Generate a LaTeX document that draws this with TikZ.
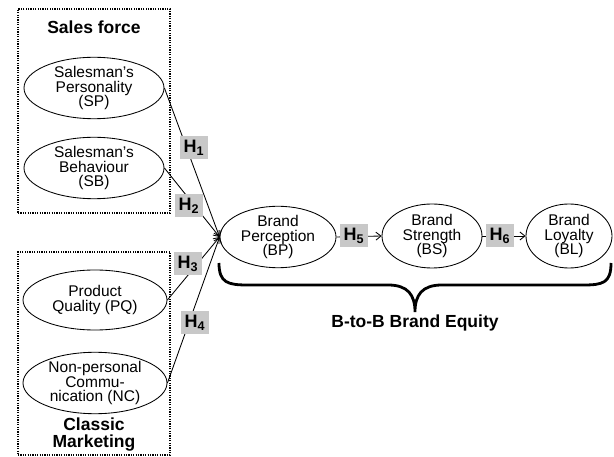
\documentclass[tikz,border=0pt]{standalone}
\usepackage{fontspec}
\setmainfont{Liberation Sans}
\usetikzlibrary{positioning,shapes.geometric,arrows.meta}
\definecolor{hgray}{RGB}{200,200,200}

\begin{document}
\begin{tikzpicture}[x=1pt,y=-1pt]
\tikzstyle{construct}=[ellipse,draw,line width=.3mm,inner sep=0pt,align=center,font=\fontsize{15.5}{14.5}\selectfont]
\tikzstyle{hyp}=[fill=hgray,minimum width=28pt,minimum height=23pt,inner sep=0pt,font=\fontsize{18}{18}\selectfont\bfseries]
\tikzstyle{groupbox}=[draw,dash pattern=on 1.2pt off 1.2pt,line width=.4mm,inner sep=0pt]
\tikzstyle{grouptitle}=[align=center,font=\fontsize{17.5}{17}\selectfont\bfseries]
\tikzstyle{conn}=[-{Straight Barb[length=5pt,width=8pt]},line width=.3mm]
    \useasboundingbox (0,0) rectangle (614,457);
    % groups
    \node[groupbox,minimum width=152pt,minimum height=204pt] (sf) at (94,111) {};
    \node[groupbox,minimum width=152pt,minimum height=203pt] (cm) at (94,353.5) {};
    \node[grouptitle] (sftitle) at (94,27) {Sales force};
    \node[grouptitle] (cmtitle) at (94,435) {Classic\\Marketing};
    % constructs
    \node[construct,minimum width=140pt,minimum height=50pt] (sp) at (94,88) {Salesman's\\Personality\\(SP)};
    \node[construct,minimum width=140pt,minimum height=54pt] (sb) at (94,168) {Salesman's\\Behaviour\\(SB)};
    \node[construct,minimum width=144pt,minimum height=60pt] (pq) at (95,300) {Product\\Quality (PQ)};
    \node[construct,minimum width=144pt,minimum height=60pt] (nc) at (95,383) {Non-personal\\Commu-\\nication (NC)};
    \node[construct,minimum width=116pt,minimum height=54pt] (bp) at (278,237) {Brand\\Perception\\(BP)};
    \node[construct,minimum width=100pt,minimum height=64pt] (bs) at (432,236) {Brand\\Strength\\(BS)};
    \node[construct,minimum width=86pt,minimum height=64pt] (bl) at (569,236) {Brand\\Loyalty\\(BL)};
    % paths
    \draw[conn] (sp.east) to (bp.west);
    \draw[conn] (sb.east) to (bp.west);
    \draw[conn] (pq.east) to (bp.west);
    \draw[conn] (nc.east) to (bp.west);
    \draw[conn] (bp.east) to (bs.west);
    \draw[conn] (bs.east) to (bl.west);
    % hypotheses
    \node[hyp] (h1) at (194,148) {H\textsubscript{1}};
    \node[hyp] (h2) at (189,206) {H\textsubscript{2}};
    \node[hyp] (h3) at (188,264) {H\textsubscript{3}};
    \node[hyp] (h4) at (195,323) {H\textsubscript{4}};
    \node[hyp] (h5) at (354,236) {H\textsubscript{5}};
    \node[hyp] (h6) at (500,236) {H\textsubscript{6}};
    % brace
    \draw[line width=2.8pt] (219,263) .. controls (219,283) and (228,285) .. (248,285) -- (388,285) .. controls (408,285) and (415,295) .. (415,312) .. controls (415,295) and (422,285) .. (442,285) -- (583,285) .. controls (603,285) and (611,283) .. (611,263);
    \node[grouptitle] (equity) at (415,323) {B-to-B Brand Equity};
  \end{tikzpicture}
\end{document}
